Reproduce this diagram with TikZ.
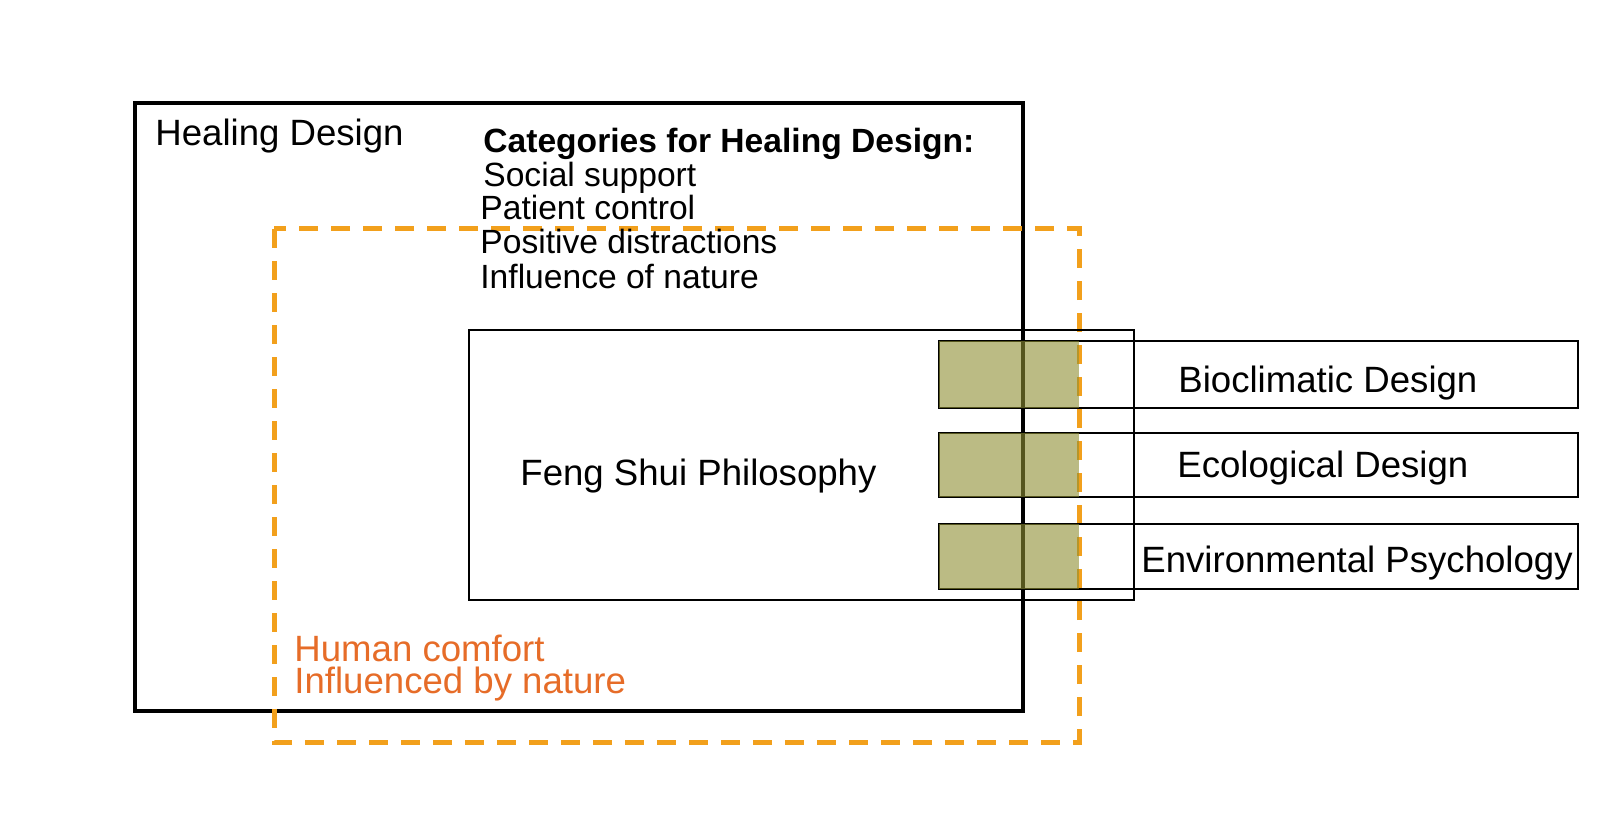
\documentclass[tikz,border=0pt]{standalone}
\usepackage{fontspec}
\setmainfont{Liberation Sans}
\definecolor{dashorange}{RGB}{242,160,28}
\definecolor{txtorange}{RGB}{230,108,40}
\definecolor{olivefill}{RGB}{142,142,50}
\begin{document}
\begin{tikzpicture}[x=0.5pt,y=-0.5pt,
  bigtxt/.style={anchor=base west,inner sep=0pt,font=\fontsize{18.3}{20}\selectfont},
  listtxt/.style={anchor=base west,inner sep=0pt,font=\fontsize{16.8}{18}\selectfont},
  rowbox/.style={draw=black,line width=1.2pt},
  greenpatch/.style={fill=olivefill,fill opacity=0.6},
  orangedash/.style={draw=dashorange,line width=2.5pt,dash pattern=on 9.5pt off 6.5pt}]
\useasboundingbox (0,0) rectangle (1600,834);
% outer Healing Design box
\draw[line width=2pt] (135,103) rectangle (1023,711);
% orange dashed box
\draw[orangedash] (274,229) rectangle (1079,742);
% Feng Shui box
\draw[line width=1pt] (469,330) rectangle (1134,600);
% row boxes
\draw[rowbox] (939,341) rectangle (1578,408);
\draw[rowbox] (939,433) rectangle (1578,497);
\draw[rowbox] (939,524) rectangle (1578,589);
% green patches
\fill[greenpatch] (939,341) rectangle (1079,408);
\fill[greenpatch] (939,433) rectangle (1079,497);
\fill[greenpatch] (939,524) rectangle (1079,589);
% texts
\node[bigtxt] (hd) at (155,146) {Healing Design};
\node[listtxt,font=\fontsize{16.8}{18}\selectfont\bfseries] (cat) at (483,153) {Categories for Healing Design:};
\node[listtxt] (c1) at (483,187) {Social support};
\node[listtxt] (c2) at (480,220) {Patient control};
\node[listtxt] (c3) at (480,254) {Positive distractions};
\node[listtxt] (c4) at (480,288) {Influence of nature};
\node[bigtxt] (fs) at (520,485) {Feng Shui Philosophy};
\node[bigtxt] (bio) at (1178,392) {Bioclimatic Design};
\node[bigtxt] (eco) at (1177,477) {Ecological Design};
\node[bigtxt] (env) at (1141,572) {Environmental Psychology};
\node[bigtxt,text=txtorange,align=left,font=\fontsize{18.3}{16}\selectfont] (hc) at (294,693) {Human comfort\\Influenced by nature};
\end{tikzpicture}
\end{document}
